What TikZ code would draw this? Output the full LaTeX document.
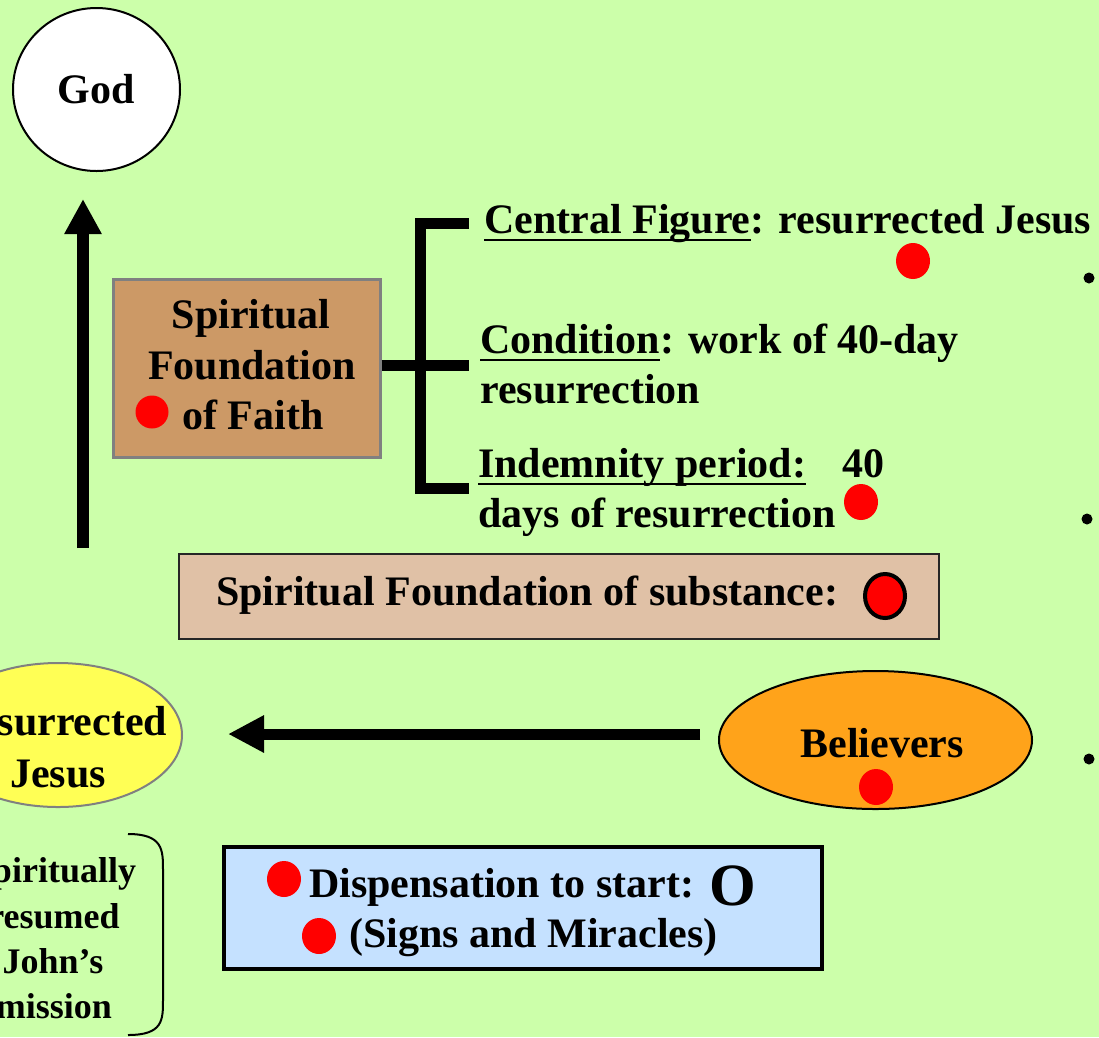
\documentclass[tikz,border=0pt]{standalone}
\usepackage{fontspec}
\setmainfont{Liberation Serif}
\usetikzlibrary{shapes.geometric,arrows.meta}
\definecolor{bg}{RGB}{204,255,170}
\definecolor{tanbox}{RGB}{204,153,102}
\definecolor{sandbox}{RGB}{224,193,166}
\definecolor{yel}{RGB}{255,255,85}
\definecolor{orng}{RGB}{255,163,26}
\definecolor{lblue}{RGB}{197,225,255}
\definecolor{rdot}{RGB}{255,0,0}
\begin{document}
\begin{tikzpicture}[x=1pt,y=-1pt,
  txt/.style={inner sep=0pt, font=\fontsize{42}{50}\selectfont\bfseries},
  smalltxt/.style={inner sep=0pt, font=\fontsize{36}{45}\selectfont\bfseries},
  reddot/.style={ellipse, fill=rdot, inner sep=0pt, minimum width=34pt, minimum height=36pt},
  bulletdot/.style={circle, fill=black, inner sep=0pt, minimum size=11pt},
  thickline/.style={line width=11pt, line join=miter},
  bigarrow/.style={line width=11pt, -{Triangle[width=35pt,length=36pt]}},
  uline/.style={line width=2.5pt}]
\useasboundingbox (0,0) rectangle (1099,1037);
\clip (0,0) rectangle (1099,1037);
\fill[bg] (0,0) rectangle (1099,1037);

% God
\node[ellipse, draw, line width=2pt, fill=white, minimum width=167pt, minimum height=163pt, txt] (god) at (96.5,89.5) {God};

% vertical arrow
\coordinate (upbot) at (83,548);
\coordinate (uptop) at (83,199);
\draw[line width=12pt, -{Triangle[width=35pt,length=35pt]}] (upbot) -- (uptop);

% Spiritual Foundation of Faith
\node[draw=gray, line width=3pt, fill=tanbox, minimum width=267pt, minimum height=178pt, inner sep=0pt] (faith) at (246.5,368) {};
\node[txt, anchor=base] (f1) at (251,328) {Spiritual};
\node[txt, anchor=base] (f2) at (252,379) {Foundation};
\node[txt, anchor=base west] (f3) at (182,429) {of Faith};
\node[reddot, minimum width=33pt, minimum height=33pt] (fdot) at (152,412) {};

% bracket
\coordinate (bt) at (469,223);
\coordinate (btv) at (420,223);
\coordinate (bbv) at (420,488);
\coordinate (bb) at (469,488);
\coordinate (bm) at (469,365);
\draw[thickline] (bt) -- (btv) -- (bbv) -- (bb);
\draw[thickline] (faith.east |- bm) -- (bm);

% Central figure
\node[txt, anchor=base west] (cfa) at (484,233) {Central Figure};
\node[txt, anchor=base west] (cfb) at (cfa.base east) {: resurrected Jesus};
\draw[uline] ([yshift=-7pt]cfa.base west) -- ([yshift=-7pt]cfa.base east);
\node[reddot] (cfdot) at (913,261) {};

% Condition
\node[txt, anchor=base west] (cona) at (480,353) {Condition};
\node[txt, anchor=base west] (conb) at (cona.base east) {: work of 40-day};
\node[txt, anchor=base west] (conc) at (480,403) {resurrection};
\draw[uline] ([yshift=-7pt]cona.base west) -- ([yshift=-7pt]cona.base east);

% Indemnity
\node[txt, anchor=base west] (inda) at (478,477) {Indemnity period:};
\node[txt, anchor=base west] (indb) at (842,477) {40};
\node[txt, anchor=base west] (indc) at (478,527) {days of resurrection};
\draw[uline] ([yshift=-7pt]inda.base west) -- ([yshift=-7pt]inda.base east);
\node[reddot] (inddot) at (861,502) {};

% bullets at right edge
\node[bulletdot] (b1) at (1089,278) {};
\node[bulletdot] (b2) at (1087,519) {};
\node[bulletdot] (b3) at (1089,759) {};

% Spiritual Foundation of substance
\node[draw=black!85, line width=2pt, fill=sandbox, minimum width=760pt, minimum height=85pt, inner sep=0pt] (subst) at (559,596.5) {};
\node[txt, anchor=base west] (st) at (216,605) {Spiritual Foundation of substance:};
\node[ellipse, draw=black, line width=4pt, fill=rdot, inner sep=0pt, minimum width=40pt, minimum height=44pt] (sdot) at (885,596) {};

% Resurrected Jesus
\node[ellipse, draw=gray, line width=2pt, fill=yel, minimum width=248pt, minimum height=144pt, inner sep=0pt] (rj) at (58,735) {};
\node[txt, anchor=base] (rj1) at (58,735) {Resurrected};
\node[txt, anchor=base] (rj2) at (58,787) {Jesus};

% Believers
\node[ellipse, draw=black, line width=2pt, fill=orng, minimum width=313pt, minimum height=138pt, inner sep=0pt] (bel) at (875.5,740) {};
\node[txt, anchor=base] (belt) at (882,757) {Believers};
\node[reddot] (beldot) at (876,787) {};

% left arrow
\coordinate (lstart) at (700,734);
\coordinate (lend) at (228,734);
\draw[bigarrow] (lstart) -- (lend);

% bracket shape with text
\draw[line width=2pt] (128,834) .. controls (163,834) and (163,850) .. (163,870) -- (163,1000) .. controls (163,1020) and (163,1035) .. (128,1035);
\node[smalltxt, anchor=base] (sp1) at (54,882) {Spiritually};
\node[smalltxt, anchor=base] (sp2) at (54,928) {resumed};
\node[smalltxt, anchor=base] (sp3) at (53,973) {John’s};
\node[smalltxt, anchor=base] (sp4) at (54,1018) {mission};

% Dispensation box
\node[draw=black, line width=4pt, fill=lblue, minimum width=598pt, minimum height=122pt, inner sep=0pt] (disp) at (523,908) {};
\node[reddot] (dd1) at (284,879) {};
\node[txt, anchor=base west] (dt1) at (309,897) {Dispensation to start:};
\node[inner sep=0pt, anchor=base west, font=\fontsize{60}{60}\selectfont\bfseries] (dO) at (709,905) {O};
\node[reddot] (dd2) at (319,936) {};
\node[txt, anchor=base west] (dt2) at (349,947) {(Signs and Miracles)};
\end{tikzpicture}
\end{document}
